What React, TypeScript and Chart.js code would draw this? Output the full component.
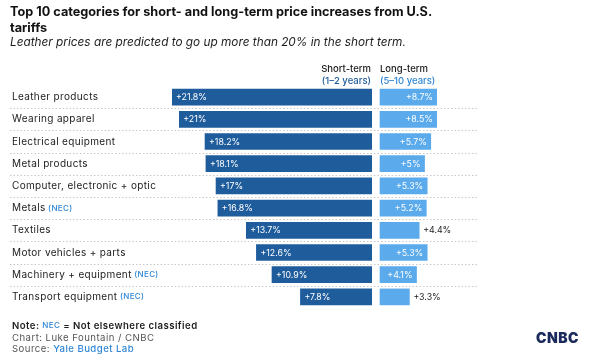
import { useEffect, useRef } from "react";
import { Chart, registerables } from "chart.js";

Chart.register(...registerables);

const categories = [
  "Leather products",
  "Wearing apparel",
  "Electrical equipment",
  "Metal products",
  "Computer, electronic + optic",
  "Metals",
  "Textiles",
  "Motor vehicles + parts",
  "Machinery + equipment",
  "Transport equipment",
];
const categoryNotes = ["", "", "", "", "", "(NEC)", "", "", "(NEC)", "(NEC)"];
const shortTerm = [21.8, 21, 18.2, 18.1, 17, 16.8, 13.7, 12.6, 10.9, 7.8];
const longTerm = [8.7, 8.5, 5.7, 5, 5.3, 5.2, 4.4, 5.3, 4.1, 3.3];
const longLabelOutside = [false, false, false, false, false, false, true, false, false, true];

const titleLines = [
  "Top 10 categories for short- and long-term price increases from U.S.",
  "tariffs",
];
const subtitle = "Leather prices are predicted to go up more than 20% in the short term.";
const shortHeader = ["Short-term", "(1–2 years)"];
const longHeader = ["Long-term", "(5–10 years)"];

const FONT = "Inter, 'Noto Sans', sans-serif";
const DARK = "#1f5c9c";
const LIGHT = "#5aaaec";
const TEXT = "#1c1c1c";
const NEC_BLUE = "#2f86d6";

function fmt(v: number) {
  return "+" + v + "%";
}

type Run = [string, string, string];
function drawRuns(ctx: CanvasRenderingContext2D, runs: Run[], x: number, y: number) {
  let cx = x;
  for (const [text, font, color] of runs) {
    ctx.font = font;
    ctx.fillStyle = color;
    ctx.fillText(text, cx, y);
    cx += ctx.measureText(text).width;
  }
}

const overlay = {
  id: "overlay",
  beforeDatasetsDraw(chart: any) {
    const ctx: CanvasRenderingContext2D = chart.ctx;
    const y = chart.scales.y;
    ctx.save();
    ctx.strokeStyle = "#c8c8c8";
    ctx.lineWidth = 1;
    ctx.setLineDash([1.5, 2]);
    for (let i = 0; i < categories.length - 1; i++) {
      const yy = Math.round((y.getPixelForValue(i) + y.getPixelForValue(i + 1)) / 2) + 0.5;
      ctx.beginPath();
      ctx.moveTo(10, yy);
      ctx.lineTo(478, yy);
      ctx.stroke();
    }
    ctx.restore();
  },
  afterDatasetsDraw(chart: any) {
    const ctx: any = chart.ctx;
    const area = chart.chartArea;
    const y = chart.scales.y;
    ctx.save();
    ctx.textBaseline = "alphabetic";
    ctx.textAlign = "left";
    // title
    ctx.fillStyle = "#111";
    ctx.font = `bold 12.7px ${FONT}`;
    ctx.fillText(titleLines[0], 10, 16);
    ctx.fillText(titleLines[1], 10, 32);
    ctx.font = `italic 11.8px ${FONT}`;
    ctx.fillStyle = TEXT;
    ctx.fillText(subtitle, 10, 46);

    // headers
    ctx.font = `500 9.5px ${FONT}`;
    ctx.fillStyle = TEXT;
    ctx.textAlign = "right";
    ctx.fillText(shortHeader[0], 371, 72);
    ctx.fillStyle = DARK;
    ctx.fillText(shortHeader[1], 371, 84);
    ctx.textAlign = "left";
    ctx.fillStyle = TEXT;
    ctx.fillText(longHeader[0], 380, 72);
    ctx.fillStyle = NEC_BLUE;
    ctx.fillText(longHeader[1], 380, 84);

    // category labels
    ctx.textBaseline = "middle";
    ctx.letterSpacing = "0.35px";
    for (let i = 0; i < categories.length; i++) {
      const yy = y.getPixelForValue(i);
      const runs: Run[] = [[categories[i], `10px ${FONT}`, TEXT]];
      if (categoryNotes[i]) runs.push([" " + categoryNotes[i], `500 8px ${FONT}`, NEC_BLUE]);
      drawRuns(ctx, runs, 12, yy);
    }
    ctx.letterSpacing = "0px";

    // value labels
    const ms = chart.getDatasetMeta(0);
    const ml = chart.getDatasetMeta(1);
    ctx.font = `8.8px ${FONT}`;
    for (let i = 0; i < categories.length; i++) {
      const bs = ms.data[i];
      ctx.fillStyle = "#fff";
      ctx.textAlign = "left";
      ctx.fillText(fmt(shortTerm[i]), bs.x + 4, bs.y + 0.5);
      const bl = ml.data[i];
      const end = Math.min(bl.x, area.right);
      if (longLabelOutside[i]) {
        ctx.fillStyle = TEXT;
        ctx.textAlign = "left";
        ctx.fillText(fmt(longTerm[i]), end + 4, bl.y + 0.5);
      } else {
        ctx.fillStyle = "#fff";
        ctx.textAlign = "right";
        ctx.fillText(fmt(longTerm[i]), end - 4, bl.y + 0.5);
      }
    }

    // footer
    ctx.textAlign = "left";
    ctx.textBaseline = "middle";
    ctx.letterSpacing = "0.45px";
    drawRuns(ctx, [
      ["Note: ", `600 9.6px ${FONT}`, TEXT],
      ["NEC", `500 8px ${FONT}`, NEC_BLUE],
      [" = Not elsewhere classified", `600 9.6px ${FONT}`, TEXT],
    ], 12, 326);
    drawRuns(ctx, [["Chart: Luke Fountain / CNBC", `9.6px ${FONT}`, "#555"]], 12, 338);
    drawRuns(ctx, [
      ["Source: ", `9.6px ${FONT}`, "#555"],
      ["Yale Budget Lab", `500 9.6px ${FONT}`, NEC_BLUE],
    ], 12, 349);

    // logo
    ctx.letterSpacing = "0.5px";
    ctx.font = `900 14px ${FONT}`;
    ctx.fillStyle = "#1b2a5c";
    ctx.textAlign = "right";
    ctx.fillText("CNBC", 579, 339);
    ctx.letterSpacing = "0px";
    ctx.restore();
  },
};

export default function App() {
  const ref = useRef<HTMLCanvasElement>(null);
  useEffect(() => {
    const chart = new Chart(ref.current!, {
      type: "bar",
      data: {
        labels: categories,
        datasets: [
          {
            label: "Short-term",
            data: shortTerm,
            xAxisID: "xs",
            backgroundColor: DARK,
            barThickness: 16,
            grouped: false,
            clip: 0,
          } as any,
          {
            label: "Long-term",
            data: longTerm,
            xAxisID: "xl",
            backgroundColor: LIGHT,
            barThickness: 16,
            grouped: false,
            clip: 0,
          } as any,
        ],
      },
      options: {
        indexAxis: "y",
        responsive: false,
        animation: false,
        devicePixelRatio: 1,
        layout: { padding: { left: 172, right: 163, top: 86, bottom: 54 } },
        plugins: { legend: { display: false }, tooltip: { enabled: false }, title: { display: false } },
        scales: {
          y: { type: "category", display: false, offset: true, grid: { display: false } },
          xs: {
            type: "linear",
            position: "bottom",
            stack: "x",
            stackWeight: 200,
            reverse: true,
            min: 0,
            max: 21.8,
            display: false,
          },
          xl: {
            type: "linear",
            position: "bottom",
            stack: "x",
            stackWeight: 65,
            min: -0.9,
            max: 6.4,
            display: false,
          },
        } as any,
      },
      plugins: [overlay],
    });
    return () => chart.destroy();
  }, []);
  return (
    <div style={{ position: "absolute", left: 0, top: 0, width: 600, height: 362, background: "#fff" }}>
      <canvas ref={ref} width={600} height={362} style={{ display: "block", width: 600, height: 362 }} />
    </div>
  );
}
